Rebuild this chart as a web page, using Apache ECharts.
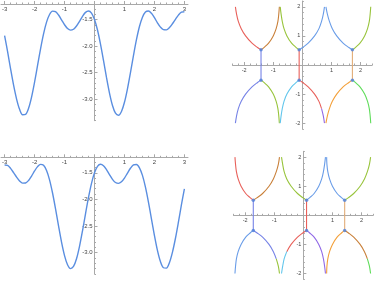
<!DOCTYPE html>
<html><head><meta charset="utf-8">
<script src="https://cdn.jsdelivr.net/npm/echarts@6/dist/echarts.min.js"></script>
<style>html,body{margin:0;padding:0;background:#fff}#c{width:374px;height:281px}</style>
</head><body><div id="c"></div>
<script>
// ---- left panels: function curves ----
const xs = [-3,-2.9,-2.8,-2.7,-2.6,-2.5,-2.4,-2.3,-2.2,-2.1,-2,-1.9,-1.8,-1.7,-1.6,-1.5,-1.4,-1.3,-1.2,-1.1,-1,-0.9,-0.8,-0.7,-0.6,-0.5,-0.4,-0.3,-0.2,-0.1,0,0.1,0.2,0.3,0.4,0.5,0.6,0.7,0.8,0.9,1,1.1,1.2,1.3,1.4,1.5,1.6,1.7,1.8,1.9,2,2.1,2.2,2.3,2.4,2.5,2.6,2.7,2.8,2.9,3];
const yTop = [-1.802,-2.105,-2.428,-2.734,-2.994,-3.187,-3.289,-3.282,-3.167,-2.957,-2.678,-2.364,-2.050,-1.770,-1.550,-1.407,-1.344,-1.353,-1.416,-1.507,-1.599,-1.669,-1.700,-1.683,-1.623,-1.535,-1.441,-1.367,-1.340,-1.380,-1.500,-1.698,-1.963,-2.270,-2.589,-2.881,-3.114,-3.259,-3.299,-3.227,-3.054,-2.801,-2.497,-2.178,-1.880,-1.633,-1.457,-1.361,-1.342,-1.385,-1.467,-1.562,-1.644,-1.692,-1.695,-1.653,-1.581,-1.498,-1.418,-1.362,-1.355];
const yBottom = [-1.355,-1.362,-1.418,-1.498,-1.581,-1.653,-1.695,-1.692,-1.644,-1.562,-1.467,-1.385,-1.342,-1.361,-1.457,-1.633,-1.880,-2.178,-2.497,-2.801,-3.054,-3.227,-3.299,-3.259,-3.114,-2.881,-2.589,-2.270,-1.963,-1.698,-1.500,-1.380,-1.340,-1.367,-1.441,-1.535,-1.623,-1.683,-1.700,-1.669,-1.599,-1.507,-1.416,-1.353,-1.344,-1.407,-1.550,-1.770,-2.050,-2.364,-2.678,-2.957,-3.167,-3.282,-3.289,-3.187,-2.994,-2.734,-2.428,-2.105,-1.802];
const leftXTicks = [-3,-2,-1,1,2,3];
const leftYTicks = [-3.0,-2.5,-2.0,-1.5];

// ---- right panels: root loci ----
const rightTicks = [-2,-1,1,2];
const yUp = [0.52,0.6,0.75,1.0,1.25,1.5,1.75,2.0];
const yDn = [-0.52,-0.6,-0.75,-1.0,-1.25,-1.5,-1.75,-2.0];
// top-right panel branch x-values
const trA_L = [-1.42,-1.54,-1.73,-1.95,-2.10,-2.20,-2.26,-2.30];
const trA_R = [-1.42,-1.32,-1.16,-1.00,-0.90,-0.84,-0.81,-0.79];
const trB_L = [-0.11,-0.21,-0.37,-0.53,-0.63,-0.69,-0.73,-0.76];
const trB_R = [-0.11,0.01,0.20,0.42,0.57,0.66,0.72,0.76];
const trC_L = [1.72,1.60,1.40,1.18,1.03,0.93,0.86,0.81];
const trC_R = [1.72,1.82,1.98,2.14,2.24,2.30,2.33,2.35];
const trDotsX = [-1.42,-0.11,1.72];
// bottom-right panel branch x-values
const brL_L = [-1.72,-1.82,-1.98,-2.14,-2.24,-2.30,-2.33,-2.35];
const brL_R = [-1.72,-1.60,-1.40,-1.18,-1.03,-0.93,-0.86,-0.82];
const brM_L = [0.11,-0.01,-0.20,-0.42,-0.57,-0.66,-0.71,-0.75];
const brM_R = [0.11,0.21,0.37,0.53,0.63,0.69,0.73,0.76];
const brR_L = [1.42,1.32,1.16,1.00,0.90,0.84,0.81,0.80];
const brR_R = [1.42,1.54,1.73,1.95,2.10,2.20,2.27,2.31];
const brDotsX = [-1.72,0.11,1.42];
const dotY = [0.52,-0.52];

const C = {
  red:'#e8605a', brown:'#c9803a', ygreen:'#98c43c', blue:'#6a9de8', purple:'#9068e6',
  bpurple:'#7683e6', cyan:'#62c6ec', orange:'#f3a03a', green:'#5fdc5a', tan:'#e2ad78',
  dot:'#4f7fd8', curve:'#5a8ee0'
};
const AX = '#a8a8a8', LBL = '#444';
const FONT = 'Liberation Sans, Arial, sans-serif';

function range(a,b,s){const r=[];for(let v=a;v<=b+1e-9;v+=s){r.push(Math.round(v*100)/100);}return r;}
function pts(xArr,yArr,i0,i1){const r=[];for(let i=(i0||0);i<=(i1==null?xArr.length-1:i1);i++)r.push([xArr[i],yArr[i]]);return r;}

const xAxis=[], yAxis=[];
function leftAxes(grid, yOff){
  xAxis.push({gridIndex:grid,type:'value',min:-3.12,max:3.12,position:'top',
    axisLine:{onZero:false,lineStyle:{color:AX,width:1}},
    axisTick:{customValues:[-3,-2,-1,0,1,2,3],length:3,lineStyle:{color:AX}},
    axisLabel:{customValues:leftXTicks,inside:true,margin:2,fontSize:6,color:LBL,fontFamily:FONT},
    splitLine:{show:false}});
  xAxis.push({gridIndex:grid,type:'value',min:-3.12,max:3.12,position:'top',
    axisLine:{show:false,onZero:false},
    axisTick:{customValues:range(-3,3,0.2),length:1.5,lineStyle:{color:AX}},
    axisLabel:{show:false},splitLine:{show:false}});
  yAxis.push({gridIndex:grid,type:'value',min:-3.4,max:-1.21,position:'left',offset:yOff,
    axisLine:{onZero:false,lineStyle:{color:AX,width:1}},
    axisTick:{inside:true,customValues:leftYTicks,length:3,lineStyle:{color:AX}},
    axisLabel:{customValues:leftYTicks,margin:2,fontSize:6,color:LBL,fontFamily:FONT,formatter:v=>Number(v).toFixed(1)},
    splitLine:{show:false}});
  yAxis.push({gridIndex:grid,type:'value',min:-3.4,max:-1.21,position:'left',offset:yOff,
    axisLine:{show:false,onZero:false},
    axisTick:{inside:true,customValues:range(-3.4,-1.3,0.1),length:1.5,lineStyle:{color:AX}},
    axisLabel:{show:false},splitLine:{show:false}});
}
function rightAxes(grid, xOff, yOff){
  xAxis.push({gridIndex:grid,type:'value',min:-2.4,max:2.4,position:'bottom',offset:xOff,
    axisLine:{onZero:false,lineStyle:{color:AX,width:1}},
    axisTick:{inside:true,customValues:[-2,-1,0,1,2],length:3,lineStyle:{color:AX}},
    axisLabel:{customValues:rightTicks,margin:2,fontSize:5.5,color:LBL,fontFamily:FONT},
    splitLine:{show:false}});
  xAxis.push({gridIndex:grid,type:'value',min:-2.4,max:2.4,position:'bottom',offset:xOff,
    axisLine:{show:false,onZero:false},
    axisTick:{inside:true,customValues:range(-2.4,2.4,0.2),length:1.5,lineStyle:{color:AX}},
    axisLabel:{show:false},splitLine:{show:false}});
  yAxis.push({gridIndex:grid,type:'value',min:-2.2,max:2.2,position:'left',offset:yOff,
    axisLine:{onZero:false,lineStyle:{color:AX,width:1}},
    axisTick:{inside:true,customValues:[-2,-1,0,1,2],length:3,lineStyle:{color:AX}},
    axisLabel:{customValues:rightTicks,margin:2,fontSize:5.5,color:LBL,fontFamily:FONT},
    splitLine:{show:false}});
  yAxis.push({gridIndex:grid,type:'value',min:-2.2,max:2.2,position:'left',offset:yOff,
    axisLine:{show:false,onZero:false},
    axisTick:{inside:true,customValues:range(-2.2,2.2,0.2),length:1.5,lineStyle:{color:AX}},
    axisLabel:{show:false},splitLine:{show:false}});
}
leftAxes(0,-93.5); rightAxes(1,-64,-69.85); leftAxes(2,-93.5); rightAxes(3,-64,-69.85);

const series=[];
function curve(ai,data){series.push({type:'line',xAxisIndex:ai,yAxisIndex:ai,data,showSymbol:false,smooth:0.3,
  lineStyle:{color:C.curve,width:1.4},animation:false,silent:true});}
curve(0, xs.map((x,i)=>[x,yTop[i]]));
curve(4, xs.map((x,i)=>[x,yBottom[i]]));

function br(ai,data,color){series.push({type:'line',xAxisIndex:ai,yAxisIndex:ai,data,showSymbol:false,smooth:0.35,
  lineStyle:{color,width:1.1},animation:false,silent:true});}
// top-right
br(2,pts(trA_L,yUp),C.red); br(2,pts(trA_R,yUp),C.brown);
br(2,pts(trB_L,yUp),C.ygreen); br(2,pts(trB_R,yUp),C.blue);
br(2,pts(trC_L,yUp),C.blue); br(2,pts(trC_R,yUp),C.ygreen);
br(2,pts(trA_L,yDn),C.bpurple); br(2,pts(trA_R,yDn),C.ygreen);
br(2,pts(trB_L,yDn),C.cyan); br(2,pts(trB_R,yDn,0,5),C.red); br(2,pts(trB_R,yDn,5,7),C.purple);
br(2,pts(trC_L,yDn),C.orange); br(2,pts(trC_R,yDn),C.green);
br(2,[[trDotsX[0],dotY[1]],[trDotsX[0],dotY[0]]],C.bpurple);
br(2,[[trDotsX[1],dotY[1]],[trDotsX[1],dotY[0]]],C.red);
br(2,[[trDotsX[2],dotY[1]],[trDotsX[2],dotY[0]]],C.tan);
// bottom-right
br(6,pts(brL_L,yUp),C.red); br(6,pts(brL_R,yUp),C.brown);
br(6,pts(brM_L,yUp),C.ygreen); br(6,pts(brM_R,yUp),C.blue);
br(6,pts(brR_L,yUp),C.blue); br(6,pts(brR_R,yUp),C.ygreen);
br(6,pts(brL_L,yDn),C.blue); br(6,pts(brL_R,yDn,0,5),C.bpurple); br(6,pts(brL_R,yDn,5,7),C.ygreen);
br(6,pts(brM_L,yDn,0,4),C.red); br(6,pts(brM_L,yDn,4,7),C.cyan); br(6,pts(brM_R,yDn),C.purple);
br(6,pts(brR_L,yDn),C.orange); br(6,pts(brR_R,yDn,0,5),C.brown); br(6,pts(brR_R,yDn,5,7),C.green);
br(6,[[brDotsX[0],dotY[1]],[brDotsX[0],dotY[0]]],C.bpurple);
br(6,[[brDotsX[1],dotY[1]],[brDotsX[1],dotY[0]]],C.red);
br(6,[[brDotsX[2],dotY[1]],[brDotsX[2],dotY[0]]],C.tan);
function dots(ai,xArr){const d=[];xArr.forEach(x=>dotY.forEach(y=>d.push([x,y])));
  series.push({type:'scatter',xAxisIndex:ai,yAxisIndex:ai,data:d,symbolSize:3.5,itemStyle:{color:C.dot},animation:false,silent:true,z:5});}
dots(2,trDotsX); dots(6,brDotsX);

const chart = echarts.init(document.getElementById('c'),null,{renderer:'canvas'});
chart.setOption({
  animation:false,
  grid:[
    {left:1,top:4,width:187,height:116.7,outerBoundsMode:'none'},
    {left:232.5,top:1,width:139.7,height:128,outerBoundsMode:'none'},
    {left:1,top:157.3,width:187,height:116.7,outerBoundsMode:'none'},
    {left:233.5,top:151.3,width:139.7,height:128,outerBoundsMode:'none'}
  ],
  xAxis, yAxis, series
});
</script></body></html>
